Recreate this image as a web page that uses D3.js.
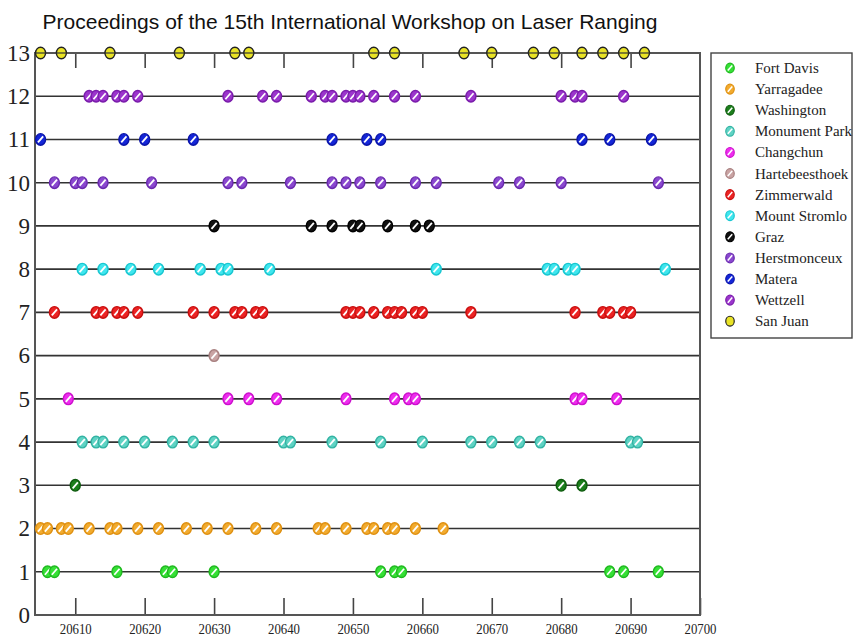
<!DOCTYPE html>
<html>
<head>
<meta charset="utf-8">
<script src="https://cdn.jsdelivr.net/npm/d3@7/dist/d3.min.js"></script>
<style>
  body { margin: 0; background: #fff; }
  svg { display: block; }
</style>
</head>
<body>
<div id="chart"></div>
<script>
// Estaciones (en el orden de la leyenda, fila 1 abajo ... fila 13 arriba)
var stations = ["Fort Davis", "Yarragadee", "Washington", "Monument Park", "Changchun",
  "Hartebeesthoek", "Zimmerwald", "Mount Stromlo", "Graz", "Herstmonceux",
  "Matera", "Wettzell", "San Juan"];

// Dias MJD de cada pase
var fortDavis = [20606, 20607, 20616, 20623, 20624, 20630, 20654, 20656, 20657, 20687, 20689, 20694];
var yarragadee = [20605, 20606, 20608, 20609, 20612, 20615, 20616, 20619, 20622, 20626, 20629, 20632,
  20636, 20639, 20645, 20646, 20649, 20652, 20653, 20655, 20656, 20659, 20663];
var washington = [20610, 20680, 20683];
var monumentPark = [20611, 20613, 20614, 20617, 20620, 20624, 20627, 20630, 20640, 20641, 20647,
  20654, 20660, 20667, 20670, 20674, 20677, 20690, 20691];
var changchun = [20609, 20632, 20635, 20639, 20649, 20656, 20658, 20659, 20682, 20683, 20688];
var hartebeesthoek = [20630];
var zimmerwald = [20607, 20613, 20614, 20616, 20617, 20619, 20627, 20630, 20633, 20634, 20636, 20637,
  20649, 20650, 20651, 20653, 20655, 20656, 20657, 20659, 20660, 20667, 20682, 20686, 20687, 20689, 20690];
var mountStromlo = [20611, 20614, 20618, 20622, 20628, 20631, 20632, 20638, 20662, 20678, 20679,
  20681, 20682, 20695];
var graz = [20630, 20644, 20647, 20650, 20651, 20655, 20659, 20661];
var herstmonceux = [20607, 20610, 20611, 20614, 20621, 20632, 20634, 20641, 20647, 20649, 20651,
  20654, 20659, 20662, 20671, 20674, 20680, 20694];
var matera = [20605, 20617, 20620, 20627, 20647, 20652, 20654, 20683, 20687, 20693];
var wettzell = [20612, 20613, 20614, 20616, 20617, 20619, 20632, 20637, 20639, 20644, 20646, 20647,
  20649, 20650, 20651, 20653, 20656, 20659, 20667, 20680, 20682, 20683, 20689];
var sanJuan = [20605, 20608, 20615, 20625, 20633, 20635, 20653, 20656, 20666, 20670, 20676, 20679,
  20683, 20686, 20689, 20692];

var passes = [fortDavis, yarragadee, washington, monumentPark, changchun, hartebeesthoek,
  zimmerwald, mountStromlo, graz, herstmonceux, matera, wettzell, sanJuan];

var xTicks = [20610, 20620, 20630, 20640, 20650, 20660, 20670, 20680, 20690, 20700];
var yTicks = [0, 1, 2, 3, 4, 5, 6, 7, 8, 9, 10, 11, 12, 13];

var fills = ["#35e035", "#f2ab2e", "#1c7f1c", "#5fd3c4", "#ee2cee", "#c9a3a3", "#ec2323",
  "#3fe6ee", "#111111", "#8a48cf", "#1426d8", "#9b35cc", "#e9e325"];
var strokes = ["#1fb81f", "#de8f10", "#0d5a0d", "#33b3a3", "#cc10cc", "#a88080", "#c81010",
  "#18c6d0", "#000000", "#6a2aae", "#0a14a8", "#7a1cab", "#222222"];

var width = 854, height = 638;
var svg = d3.select("#chart").append("svg")
  .attr("width", width)
  .attr("height", height);

var x = d3.scaleLinear().domain([20604.2, 20700]).range([35, 700]);
var y = d3.scaleLinear().domain([0, 13]).range([615, 53]);

// titulo
svg.append("text")
  .attr("x", 350).attr("y", 29)
  .attr("text-anchor", "middle")
  .style("font-family", "Liberation Sans, Arial, sans-serif")
  .style("font-size", "21px")
  .style("fill", "#111")
  .text("Proceedings of the 15th International Workshop on Laser Ranging");

// lineas horizontales de cada estacion
svg.append("g").selectAll("line")
  .data(yTicks.filter(function (d) { return d > 0 && d < 13; }))
  .enter().append("line")
  .attr("x1", x.range()[0]).attr("x2", x.range()[1])
  .attr("y1", function (d) { return y(d); })
  .attr("y2", function (d) { return y(d); })
  .attr("stroke", "#333")
  .attr("stroke-width", 1.6);

// eje inferior
var ejeX = d3.axisBottom(x).tickValues(xTicks).tickFormat(d3.format("d"))
  .tickSizeInner(-17).tickSizeOuter(0);
var gx = svg.append("g").attr("transform", "translate(0," + y(0) + ")").call(ejeX);
gx.select(".domain").remove();
gx.selectAll(".tick line").attr("stroke", "#444").attr("stroke-width", 1.6);
gx.selectAll(".tick text")
  .attr("y", 8)
  .style("font-family", "Liberation Serif, Times New Roman, serif")
  .style("font-size", "15px")
  .style("fill", "#222")
  .attr("textLength", 32)
  .attr("lengthAdjust", "spacingAndGlyphs");

// eje superior (solo marcas)
var ejeTop = d3.axisTop(x).tickValues(xTicks.slice(0, 9)).tickSizeInner(-15).tickSizeOuter(0).tickFormat("");
var gt = svg.append("g").attr("transform", "translate(0," + y(13) + ")").call(ejeTop);
gt.select(".domain").remove();
gt.selectAll(".tick line").attr("stroke", "#444").attr("stroke-width", 1.6);

// eje izquierdo (solo etiquetas)
var ejeY = d3.axisLeft(y).tickValues(yTicks).tickSize(0).tickPadding(5);
var gy = svg.append("g").attr("transform", "translate(" + x.range()[0] + ",0)").call(ejeY);
gy.select(".domain").remove();
gy.selectAll(".tick text")
  .style("font-family", "Liberation Serif, Times New Roman, serif")
  .style("font-size", "23px")
  .style("fill", "#222");

// marco
svg.append("rect")
  .attr("x", x.range()[0]).attr("y", y(13))
  .attr("width", x.range()[1] - x.range()[0])
  .attr("height", y(0) - y(13))
  .attr("fill", "none")
  .attr("stroke", "#555")
  .attr("stroke-width", 2);

// marcador: elipse con franja blanca diagonal
function marker(g, i, enEje) {
  g.append("ellipse")
    .attr("rx", 5).attr("ry", 5.8)
    .attr("fill", fills[i])
    .attr("stroke", strokes[i])
    .attr("stroke-width", 1.4);
  if (i !== 12) {
    g.append("line")
      .attr("x1", -2.6).attr("y1", 3).attr("x2", 2.6).attr("y2", -3)
      .attr("stroke", "#fff")
      .attr("stroke-width", 1.8);
  } else if (enEje) {
    g.append("line")
      .attr("x1", -5).attr("y1", 0).attr("x2", 5).attr("y2", 0)
      .attr("stroke", "#333")
      .attr("stroke-width", 1.2);
  }
}

var puntos = svg.append("g");
passes.forEach(function (dias, i) {
  puntos.selectAll(".p" + i)
    .data(dias)
    .enter().append("g")
    .attr("class", "p" + i)
    .attr("transform", function (d) { return "translate(" + x(d) + "," + y(i + 1) + ")"; })
    .each(function () { marker(d3.select(this), i, true); });
});

// leyenda
var leyenda = svg.append("g");
leyenda.append("rect")
  .attr("x", 711).attr("y", 53)
  .attr("width", 141).attr("height", 285)
  .attr("fill", "#fff")
  .attr("stroke", "#444")
  .attr("stroke-width", 1.4);

stations.forEach(function (s, i) {
  var gy0 = 68 + i * 21.1;
  var g = leyenda.append("g").attr("transform", "translate(730," + gy0 + ")");
  var m = g.append("g").attr("transform", "scale(0.85)");
  marker(m, i, false);
  g.append("text")
    .attr("x", 25).attr("y", 5)
    .style("font-family", "Liberation Serif, Times New Roman, serif")
    .style("font-size", "15px")
    .style("fill", "#222")
    .text(s);
});
</script>
</body>
</html>
